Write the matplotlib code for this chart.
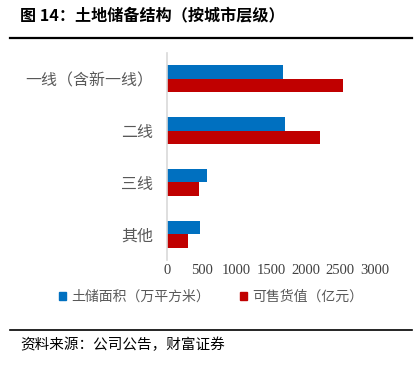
import matplotlib
matplotlib.use("Agg")
import matplotlib.pyplot as plt
from matplotlib.patches import Patch

plt.rcParams['font.family'] = ['Noto Sans CJK SC', 'DejaVu Sans']

categories = ["一线（含新一线）", "二线", "三线", "其他"]
land_area = [1670, 1700, 570, 475]      # 土储面积（万平方米）
saleable_value = [2540, 2200, 460, 300]  # 可售货值（亿元）
series_names = ["土储面积（万平方米）", "可售货值（亿元）"]
xticks = [0, 500, 1000, 1500, 2000, 2500, 3000]

blue = "#0070C0"
red = "#C00000"

fig = plt.figure(figsize=(4.16, 3.70), dpi=100)
ax = fig.add_axes([167/416, 1-260/370, (375-167)/416, (260-53)/370])

h = 0.26
ys = list(range(len(categories)))
ax.barh([y - h/2 for y in ys], land_area, height=h, color=blue)
ax.barh([y + h/2 for y in ys], saleable_value, height=h, color=red)

ax.set_xlim(0, 3000)
ax.set_ylim(len(categories) - 0.5, -0.5)
ax.set_yticks(ys)
ax.set_yticklabels(categories, fontsize=11.5, color="#595959")
ax.set_xticks(xticks)
ax.set_xticklabels([str(t) for t in xticks], fontsize=10.5, family="Liberation Serif", color="#404040")
ax.tick_params(axis='y', length=0, pad=10)
ax.tick_params(axis='x', length=0, pad=3)
for s in ["top", "right", "bottom"]:
    ax.spines[s].set_visible(False)
ax.spines["left"].set_color("#d9d9d9")
ax.spines["left"].set_linewidth(1.2)

handles = [Patch(color=blue), Patch(color=red)]
fig.legend(handles, series_names, loc="center", bbox_to_anchor=(0.508, 1-297/370),
           ncol=2, frameon=False, fontsize=10, handlelength=0.5, handleheight=0.5,
           handletextpad=0.35, columnspacing=2.2, labelcolor="#595959")

# title and lines
fig.text(20/416, 1-15/370, "图 14：土地储备结构（按城市层级）", fontsize=11.6, fontweight="bold",
         va="center", ha="left", color="black")
fig.add_artist(plt.Line2D([10/416, 412/416], [1-37.5/370, 1-37.5/370], color="black", lw=1.6))
fig.add_artist(plt.Line2D([10/416, 412/416], [1-329.5/370, 1-329.5/370], color="black", lw=1.2))
fig.text(20/416, 1-345/370, "资料来源：公司公告，财富证券", fontsize=10.5, style="italic",
         va="center", ha="left", color="black")

fig.savefig("out.png", dpi=100)
